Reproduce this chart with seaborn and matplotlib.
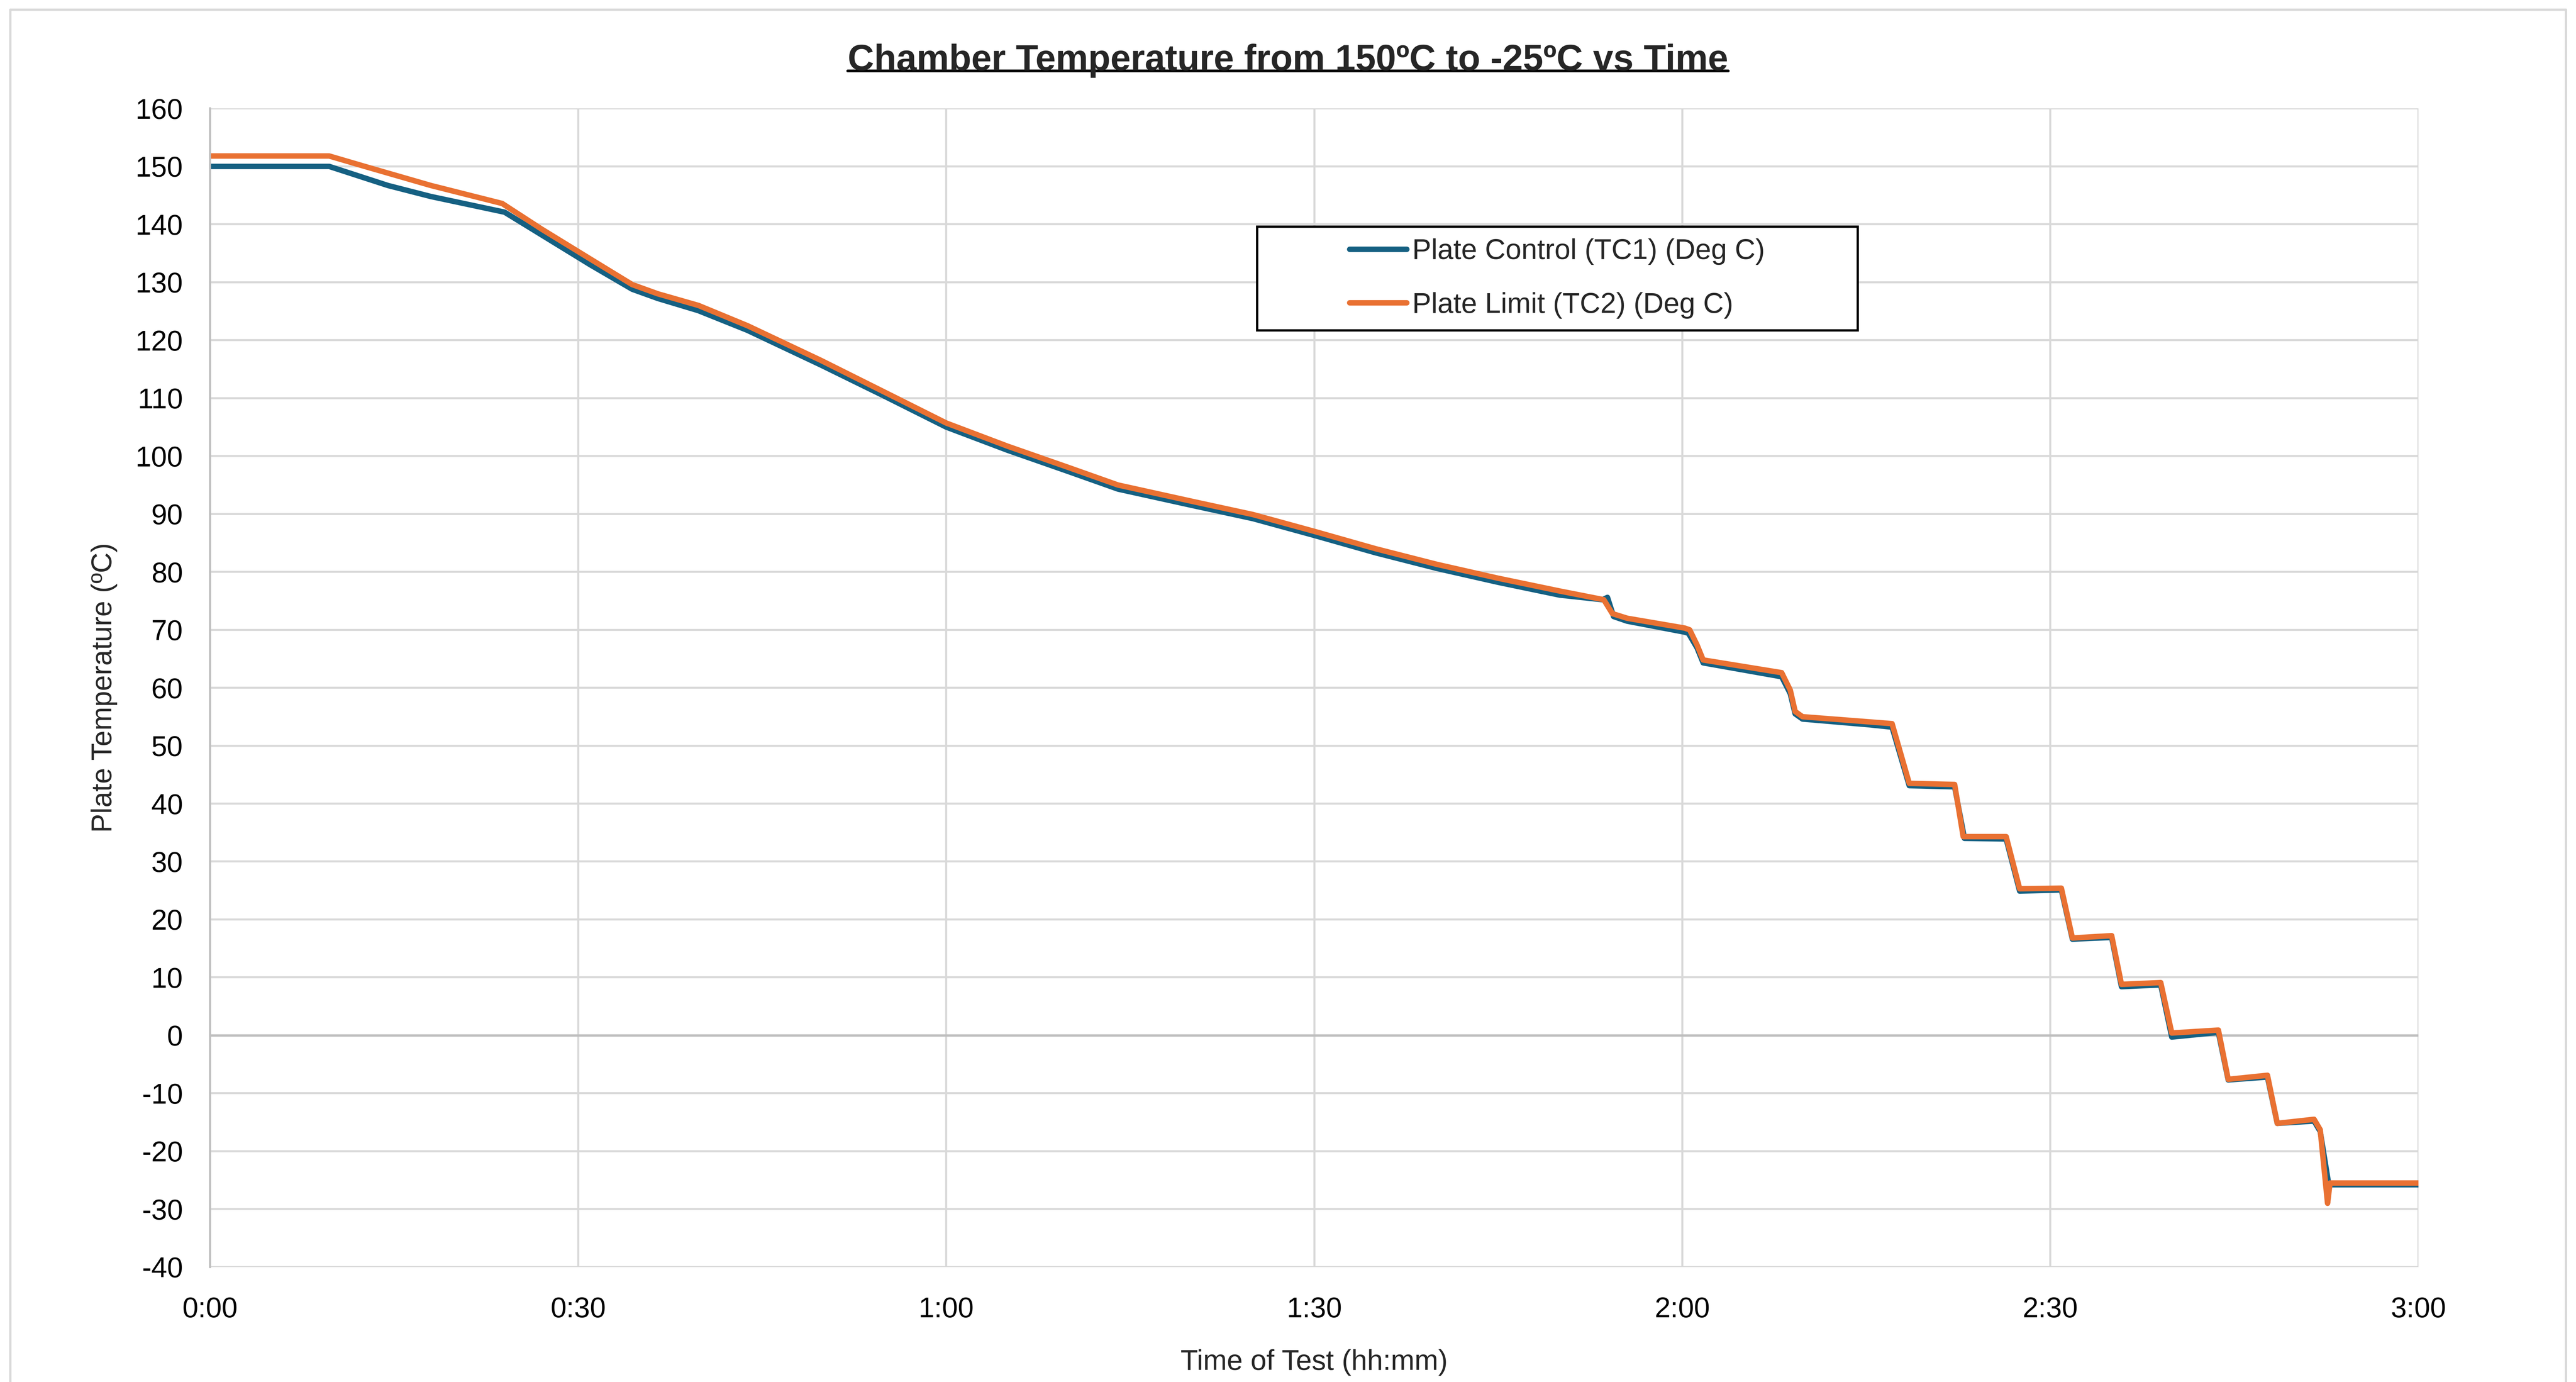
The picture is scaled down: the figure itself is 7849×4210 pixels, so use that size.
import numpy as np
import pandas as pd
import matplotlib.pyplot as plt
import matplotlib.lines as mlines
import matplotlib.patches as mpatches
import seaborn as sns

# Data (time in minutes from start of test)
tc1_time = [0, 9.7, 14.5, 18, 24, 27, 31, 34.4, 36.5, 39.8, 43.8, 49.8, 55, 60,
            65, 70, 74, 80, 85, 90, 95, 100, 105, 110, 113.5, 113.9, 114.4,
            115.5, 120.2, 120.5, 121.2, 121.7, 128.1, 128.8, 129.2, 129.8, 135.3,
            137.1, 138.5, 142.2, 143.0, 146.4, 147.5, 150.9, 151.8, 155.0, 155.8,
            159.0, 159.9, 163.7, 164.5, 167.7, 168.5, 171.5, 172.0, 172.7, 180]
tc1_temp = [150, 150, 146.7, 144.8, 142.1, 138.2, 133.0, 128.8, 127.2, 125.1, 121.7,
            115.7, 110.3, 105.0, 101.0, 97.3, 94.3, 91.5, 89.2, 86.3, 83.3, 80.6,
            78.2, 76.0, 75.2, 75.6, 72.3, 71.5, 69.6, 69.4, 66.9, 64.3, 61.9,
            59.0, 55.5, 54.6, 53.6, 53.2, 43.1, 42.9, 34.0, 33.9, 24.9, 25.1,
            16.6, 16.9, 8.4, 8.7, -0.3, 0.5, -7.7, -7.2, -15.2, -14.8, -16.6,
            -25.8, -25.8]

tc2_time = [0, 9.7, 12.6, 18, 23.8, 27, 31, 34.4, 36.5, 39.8, 43.8, 49.8, 55, 60,
            65, 70, 74, 80, 85, 90, 95, 100, 105, 110, 113.6, 114.3, 115.5,
            120.2, 120.6, 121.2, 121.7, 128.1, 128.8, 129.2, 129.8, 135.3, 137.1,
            138.5, 142.2, 142.9, 146.4, 147.5, 150.9, 151.8, 155.0, 155.8, 159.0,
            159.9, 163.7, 164.5, 167.7, 168.5, 171.5, 172.0, 172.6, 172.8, 180]
tc2_temp = [151.8, 151.8, 150.0, 146.7, 143.6, 139.2, 134.0, 129.6, 128.0, 126.0,
            122.5, 116.5, 111.0, 105.7, 101.7, 98.0, 95.0, 92.2, 89.9, 87.0, 84.0,
            81.3, 78.9, 76.7, 75.2, 72.8, 72.0, 70.3, 70.0, 67.4, 64.8, 62.6,
            59.6, 55.9, 55.0, 54.1, 53.8, 43.5, 43.3, 34.3, 34.3, 25.3, 25.4,
            16.8, 17.2, 8.8, 9.1, 0.4, 0.9, -7.6, -6.9, -15.2, -14.5, -16.3,
            -29.0, -25.5, -25.5]

series_names = ["Plate Control (TC1) (Deg C)", "Plate Limit (TC2) (Deg C)"]
x_ticks = [0, 30, 60, 90, 120, 150, 180]
x_tick_labels = ["0:00", "0:30", "1:00", "1:30", "2:00", "2:30", "3:00"]
y_ticks = list(range(-40, 161, 10))

df = pd.concat([
    pd.DataFrame({"minutes": tc1_time, "temp": tc1_temp, "series": series_names[0]}),
    pd.DataFrame({"minutes": tc2_time, "temp": tc2_temp, "series": series_names[1]}),
], ignore_index=True)

sns.set_theme(style="whitegrid")
plt.rcParams["font.family"] = ["Liberation Sans", "DejaVu Sans"]
plt.rcParams["axes.unicode_minus"] = False

fig = plt.figure(figsize=(15.698, 8.42), dpi=500)
ax = fig.add_axes([0.0816, 0.0832, 0.8572, 0.8383])

sns.lineplot(data=df, x="minutes", y="temp", hue="series",
             palette={series_names[0]: "#156082", series_names[1]: "#E97132"},
             estimator=None, sort=False, linewidth=2.4, ax=ax)

ax.set_xlim(0, 180)
ax.set_ylim(-40, 160)
ax.set_xticks(x_ticks)
ax.set_xticklabels(x_tick_labels)
ax.set_yticks(y_ticks)
ax.tick_params(axis="both", labelsize=12.5, length=0, colors="#000000")
ax.tick_params(axis="x", pad=13)
ax.tick_params(axis="y", pad=12)
ax.grid(True, color="#D9D9D9", linewidth=0.9)
for s in ax.spines.values():
    s.set_visible(False)
ax.spines["left"].set_visible(True)
ax.spines["left"].set_color("#BFBFBF")
ax.spines["left"].set_linewidth(0.9)
ax.axhline(0, color="#BFBFBF", linewidth=1.0, zorder=1)

ax.set_xlabel("Time of Test (hh:mm)", fontsize=12.5)
ax.set_ylabel("Plate Temperature (ºC)", fontsize=12.5)
ax.xaxis.set_label_coords(0.5, -0.071)
ax.yaxis.set_label_coords(-0.042, 0.5)

# legend box drawn as a plain rectangle, entries centred inside it
box = (0.474, 0.8085, 0.272, 0.0895)
ax.add_patch(mpatches.Rectangle(box[:2], box[2], box[3], transform=ax.transAxes,
                                facecolor="white", edgecolor="black",
                                linewidth=1.0, zorder=5))
leg = ax.legend(loc="center", bbox_to_anchor=(box[0] + box[2] / 2, box[1] + box[3] / 2),
                frameon=False, fontsize=12.5, handlelength=2.0,
                handletextpad=0.2, labelspacing=0.95, borderpad=0.0)
leg.set_zorder(6)
for h in leg.get_lines():
    h.set_linewidth(2.4)

title = fig.text(0.5, 0.956, "Chamber Temperature from 150ºC to -25ºC vs Time",
                 ha="center", va="center", fontsize=16, fontweight="bold")

# underline the title, like the original
fig.canvas.draw()
bb = title.get_window_extent().transformed(fig.transFigure.inverted())
fig.add_artist(mlines.Line2D([bb.x0, bb.x1], [bb.y0 + 0.2 * bb.height] * 2,
                             color="black", linewidth=1.2))

# faint outer frame of the chart area
fig.add_artist(mlines.Line2D([0.004, 0.004], [0, 0.993], color="#D9D9D9", linewidth=1.0))
fig.add_artist(mlines.Line2D([0.996, 0.996], [0, 0.993], color="#D9D9D9", linewidth=1.0))
fig.add_artist(mlines.Line2D([0.004, 0.996], [0.993, 0.993], color="#D9D9D9", linewidth=1.0))

fig.savefig("out.png", dpi=500, facecolor="white")
